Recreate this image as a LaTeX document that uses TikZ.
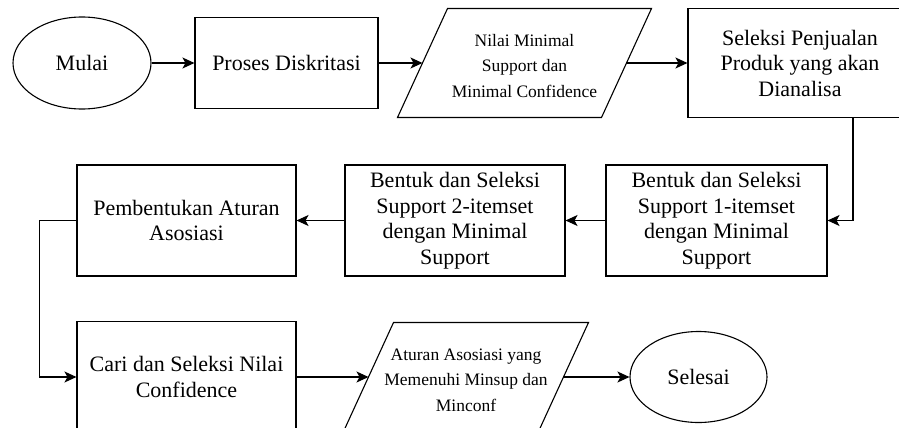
\documentclass[tikz,border=0pt]{standalone}
\usepackage{fontspec}
\setmainfont{Liberation Serif}
\usetikzlibrary{arrows.meta,shapes.geometric,calc}

\begin{document}
\begin{tikzpicture}[x=1pt,y=-1pt,line width=1.1pt,
    proc/.style={draw,rectangle,align=center,font=\fontsize{22}{25.5}\selectfont},
    term/.style={draw,ellipse,font=\fontsize{22}{25.5}\selectfont},
    flow/.style={-{Stealth[length=12pt,width=11pt,inset=3pt]}}]
  \useasboundingbox (0,0) rectangle (899,428);
  \clip (0,0) rectangle (899,428);
  \def\dataio(#1)(#2)(#3)#4{%
    \node[align=center,font=\fontsize{17.5}{25.5}\selectfont] (#2) at ($(#1)+(0,3)$) {#4};
    \draw ($(#1)+(-#3+25,-54.5)$) -- ($(#1)+(#3+25,-54.5)$) -- ($(#1)+(#3-25,54.5)$) -- ($(#1)+(-#3-25,54.5)$) -- cycle;
    \coordinate (#2-in) at ($(#1)+(-#3,0)$);
    \coordinate (#2-out) at ($(#1)+(#3,0)$);
  }
  \node[term,minimum width=138,minimum height=92] (mulai) at (82,63) {Mulai};
  \node[proc,minimum width=183,minimum height=91] (proses) at (286.5,63) {Proses Diskritasi};
  \dataio(524.5,63)(nilai)(102){Nilai Minimal\\Support dan\\Minimal Confidence}
  \node[proc,minimum width=224,minimum height=109] (seleksi) at (800,63) {Seleksi Penjualan\\Produk yang akan\\Dianalisa};
  \node[proc,minimum width=221,minimum height=111] (bentuk1) at (716.5,220.5) {Bentuk dan Seleksi\\Support 1-itemset\\dengan Minimal\\Support};
  \node[proc,minimum width=220,minimum height=111] (bentuk2) at (455,220.5) {Bentuk dan Seleksi\\Support 2-itemset\\dengan Minimal\\Support};
  \node[proc,minimum width=219,minimum height=111] (aturan) at (186.5,220.5) {Pembentukan Aturan\\Asosiasi};
  \node[proc,minimum width=219,minimum height=111] (cari) at (186.5,377) {Cari dan Seleksi Nilai\\Confidence};
  \dataio(466,377)(hasil)(97.5){Aturan Asosiasi yang\\Memenuhi Minsup dan\\Minconf}
  \node[term,minimum width=137,minimum height=91] (selesai) at (698.5,377) {Selesai};

  \draw[flow] (mulai) -- (proses);
  \draw[flow] (proses) -- (nilai-in);
  \draw[flow] (nilai-out) -- (seleksi);
  \draw[flow] ([xshift=53pt]seleksi.south) |- (bentuk1);
  \draw[flow] (bentuk1) -- (bentuk2);
  \draw[flow] (bentuk2) -- (aturan);
  \draw[flow] (aturan.west) -- ++(-37,0) |- (cari);
  \draw[flow] (cari) -- (hasil-in);
  \draw[flow] (hasil-out) -- (selesai);
\end{tikzpicture}
\end{document}
